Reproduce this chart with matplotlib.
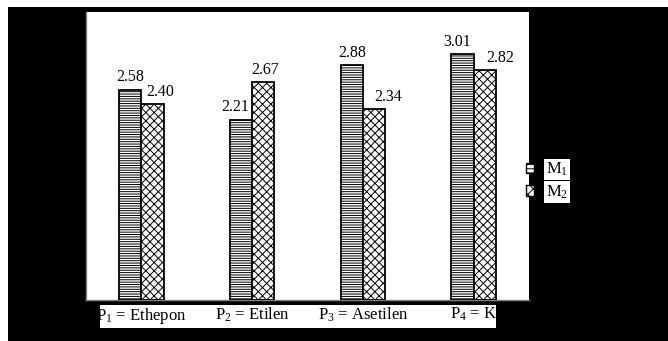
import matplotlib
matplotlib.use("Agg")
import matplotlib.pyplot as plt
from matplotlib.patches import Rectangle, Patch
import numpy as np

# ---- data ----
categories = [r"P$_1$ = Ethepon", r"P$_2$ = Etilen", r"P$_3$ = Asetilen", r"P$_4$ = K"]
series_names = [r"M$_1$", r"M$_2$"]
m1_values = [2.58, 2.21, 2.88, 3.01]
m2_values = [2.40, 2.67, 2.34, 2.82]
m1_labels = ["2.58", "2.21", "2.88", "3.01"]
m2_labels = ["2.40", "2.67", "2.34", "2.82"]

plt.rcParams["font.family"] = ["Liberation Serif", "DejaVu Serif"]
plt.rcParams["mathtext.fontset"] = "custom"
plt.rcParams["mathtext.rm"] = "Liberation Serif"
plt.rcParams["mathtext.it"] = "Liberation Serif:italic"
plt.rcParams["hatch.linewidth"] = 0.7

W, H, DPI = 668, 341, 100
fig = plt.figure(figsize=(W / DPI, H / DPI), dpi=DPI, facecolor="white")

# black backdrop (white strip at top and left)
fig.patches.append(Rectangle((8 / W, 0), 1 - 8 / W, 1 - 7 / H, transform=fig.transFigure,
                             facecolor="black", edgecolor="none", zorder=-10))
# white box behind category labels
fig.patches.append(Rectangle((100 / W, 1 - 328 / H), (496 - 100) / W, (328 - 305) / H,
                             transform=fig.transFigure, facecolor="white", edgecolor="none", zorder=-5))

ax = fig.add_axes([86 / W, 1 - 300 / H, (529 - 86) / W, (300 - 12) / H])
ax.set_facecolor("white")

x = np.arange(len(categories))
bw = 0.2
b1 = ax.bar(x - bw / 2, m1_values, bw, facecolor="white", edgecolor="black",
            hatch="-------", linewidth=1.3, zorder=3)
b2 = ax.bar(x + bw / 2, m2_values, bw, facecolor="white", edgecolor="black",
            hatch="xxxx", linewidth=1.3, zorder=3)

ax.set_xlim(-0.5, 3.5)
ax.set_ylim(0, 3.53)

# value labels (horizontal offsets in pixels)
off1 = [0, -6, 0, -5.5]
off2 = [7.5, 2, 14, 15.5]
for i in range(len(categories)):
    ax.annotate(m1_labels[i], (x[i] - bw / 2, m1_values[i]),
                xytext=(off1[i] * 0.72, 6), textcoords="offset points",
                ha="center", va="baseline", fontsize=11.5, color="black", zorder=5)
    ax.annotate(m2_labels[i], (x[i] + bw / 2, m2_values[i]),
                xytext=(off2[i] * 0.72, 6), textcoords="offset points",
                ha="center", va="baseline", fontsize=11.5, color="black", zorder=5)

ax.set_yticks([])
ax.set_xticks(x)
ax.set_xticklabels(categories, fontsize=12, color="black")
ax.tick_params(axis="x", length=0, pad=4)
for s in ["top", "right"]:
    ax.spines[s].set_visible(False)
for s in ["left", "bottom"]:
    ax.spines[s].set_color("#808080")
    ax.spines[s].set_linewidth(1.0)

handles = [Patch(facecolor="white", edgecolor="black", hatch="----", linewidth=1.0),
           Patch(facecolor="white", edgecolor="black", hatch="xxx", linewidth=1.0)]
leg = fig.legend(handles, series_names, loc="upper left",
                 bbox_to_anchor=(526 / W, 1 - 161 / H), frameon=False,
                 handlelength=0.45, handleheight=0.55, handletextpad=0.75,
                 labelspacing=0.3, borderaxespad=0, borderpad=0, fontsize=12)
for t in leg.get_texts():
    t.set_color("black")
    t.set_bbox(dict(facecolor="white", edgecolor="none", pad=1.5))

fig.savefig("out.png", dpi=DPI, facecolor=fig.get_facecolor())
